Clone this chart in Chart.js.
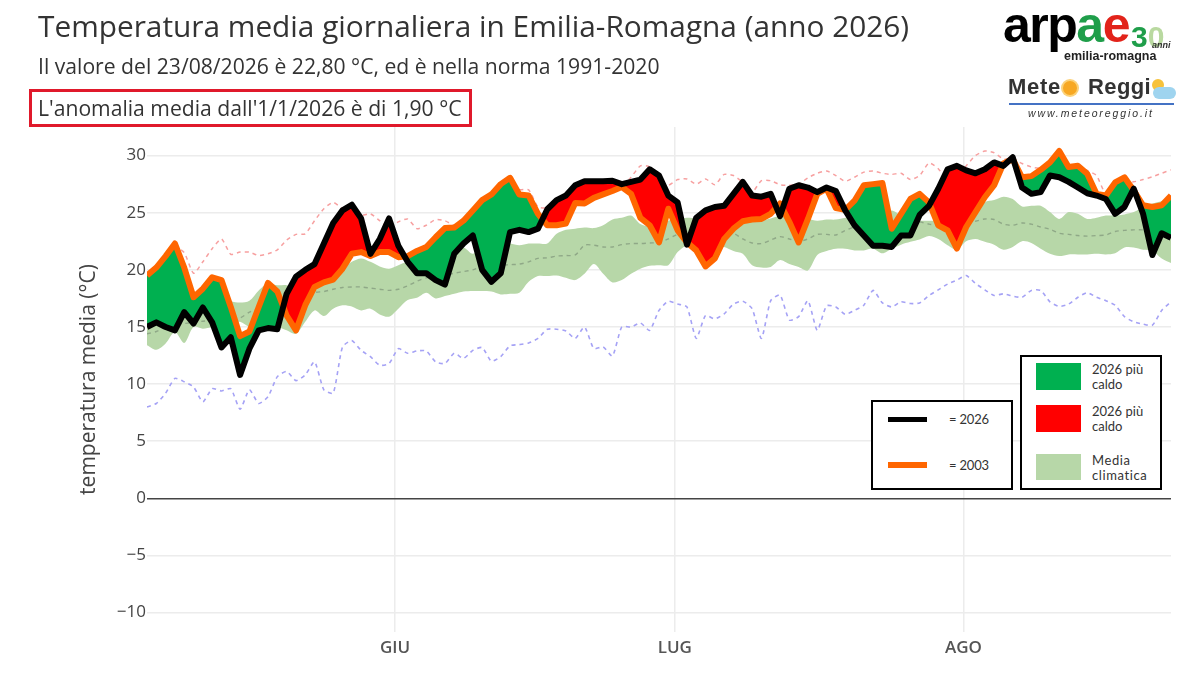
<!DOCTYPE html>
<html lang="it">
<head>
<meta charset="utf-8">
<title>Temperatura media giornaliera in Emilia-Romagna</title>
<script src="https://cdn.jsdelivr.net/npm/chart.js@4"></script>
<style>
  html, body { margin:0; padding:0; background:#fff; }
  #wrap { position:relative; width:1200px; height:675px; overflow:hidden; font-family:"Open Sans", sans-serif; }
  #wrap canvas { position:absolute; left:0; top:0; }
  .txt { position:absolute; white-space:nowrap; }
  #title { left:38px; top:6px; font-size:29.8px; line-height:40px; color:#333; }
  #sub { left:38px; top:52px; font-size:21.15px; line-height:28px; color:#333; }
  #anom { left:29px; top:89px; height:32px; border:3px solid #e0192b; font-size:21.15px; line-height:32px; color:#333; padding-left:6px; width:431px; }
  .box { position:absolute; background:#fff; border:2.5px solid #000; box-sizing:border-box; }
  .sw { position:absolute; }
  .leg { position:absolute; font-family:Lato, sans-serif; font-size:13px; line-height:15px; color:#333; white-space:nowrap; }
  .logo { position:absolute; white-space:nowrap; font-family:"Liberation Sans", Arial, sans-serif; font-weight:bold; }
</style>
</head>
<body>
<div id="wrap">
  <canvas id="chartTemp" width="1200" height="675"></canvas>

  <div class="txt" id="title">Temperatura media giornaliera in Emilia-Romagna (anno 2026)</div>
  <div class="txt" id="sub">Il valore del 23/08/2026 è 22,80 °C, ed è nella norma 1991-2020</div>
  <div class="txt" id="anom">L'anomalia media dall'1/1/2026 è di 1,90 °C</div>

  <!-- legende -->
  <div class="box" style="left:871px;top:400px;width:142px;height:90px"></div>
  <div class="sw" style="left:888px;top:417px;width:39px;height:5px;background:#000"></div>
  <div class="sw" style="left:888px;top:462px;width:39px;height:6px;background:#ff6600"></div>
  <div class="leg" style="left:949px;top:412px;letter-spacing:-.2px">= 2026</div>
  <div class="leg" style="left:949px;top:458px;letter-spacing:-.2px">= 2003</div>

  <div class="box" style="left:1020px;top:355px;width:142px;height:135px"></div>
  <div class="sw" style="left:1036px;top:363px;width:45px;height:27px;background:#00b050"></div>
  <div class="sw" style="left:1036px;top:405px;width:45px;height:27px;background:#ff0000"></div>
  <div class="sw" style="left:1036px;top:454px;width:45px;height:26px;background:#b7d7a8"></div>
  <div class="leg" style="left:1092px;top:362px">2026 più<br>caldo</div>
  <div class="leg" style="left:1092px;top:404px">2026 più<br>caldo</div>
  <div class="leg" style="left:1092px;top:453px;letter-spacing:.6px">Media<br>climatica</div>

  <!-- loghi -->
  <div class="logo" style="left:1003px;top:0px;font-size:50px;line-height:50px;letter-spacing:-1.5px;color:#000">arp<span style="color:#1f9e4a">a</span><span style="color:#e2231a">e</span></div>
  <div class="logo" style="left:1131px;top:21px;font-size:30px;line-height:32px;color:#1f9e4a">3<span style="color:#b9d9a0">0</span></div>
  <div class="logo" style="left:1152px;top:40px;font-size:9px;line-height:10px;font-style:italic;color:#333">anni</div>
  <div class="logo" style="left:1064px;top:49px;font-size:12.5px;line-height:14px;color:#222">emilia-romagna</div>
  <div class="logo" style="left:1008px;top:74px;font-size:22px;line-height:26px;color:#333;letter-spacing:.7px">Mete</div>
  <div class="sw" style="left:1063px;top:81px;width:14px;height:14px;border-radius:50%;background:#f7a823;box-shadow:0 0 0 2px #fbd27a"></div>
  <div class="logo" style="left:1088px;top:74px;font-size:22px;line-height:26px;color:#333;letter-spacing:.4px">Reggi</div>
  <div class="sw" style="left:1152px;top:79px;width:12px;height:12px;border-radius:50%;background:#f7c23a"></div>
  <div class="sw" style="left:1153px;top:87px;width:23px;height:12px;border-radius:6px;background:#9fd4ef"></div>
  <div class="sw" style="left:1009px;top:103px;width:165px;height:1.5px;background:#4472c4"></div>
  <div class="logo" style="left:1028px;top:106px;font-size:10.5px;line-height:14px;font-weight:normal;font-style:italic;letter-spacing:1.9px;color:#333">www.meteoreggio.it</div>
</div>

<script>
// ==================== Dati (dal 5 maggio al 23 agosto) ====================
const monthTicks = [26.65, 56.7, 87.7];
const monthLabels = ["GIU", "LUG", "AGO"];
const tempTicks = [-10, -5, 0, 5, 10, 15, 20, 25, 30];

const temp2026 = [
  15.0,15.4,15.0,14.7,16.3,15.3,16.7,15.4,13.2,14.1,
  10.8,13.1,14.7,14.9,14.8,17.9,19.4,20.0,20.5,22.3,
  24.1,25.2,25.7,24.5,21.4,22.7,24.5,22.1,20.7,19.7,
  19.7,19.1,18.7,21.4,22.3,23.0,20.0,18.95,19.7,23.3,
  23.5,23.3,23.6,25.3,26.1,26.5,27.4,27.75,27.75,27.75,
  27.8,27.5,27.7,27.9,28.8,28.25,26.5,25.9,22.2,24.55,
  25.2,25.5,25.6,26.65,27.7,26.5,26.4,26.65,24.7,27.1,
  27.4,27.2,26.8,27.2,26.9,25.2,23.9,23.0,22.1,22.1,
  22.0,23.0,23.0,24.8,25.6,27.1,28.8,29.1,28.7,28.45,
  28.8,29.4,29.1,29.85,27.2,26.65,26.8,28.25,28.1,27.7,
  27.2,26.7,26.5,26.2,24.9,25.5,27.1,24.9,21.3,23.2,
  22.8
];

const temp2003 = [
  19.5,20.2,21.2,22.3,20.2,17.6,18.35,19.35,19.1,16.75,
  14.2,14.6,16.75,18.85,18.1,16.0,14.7,16.9,18.5,18.9,
  19.15,20.1,21.4,21.55,21.2,21.55,21.55,21.1,21.2,21.65,
  22.0,22.85,23.65,23.7,24.3,25.2,26.1,26.6,27.5,28.05,
  26.6,26.5,24.9,23.9,23.9,24.05,25.85,25.8,26.3,26.6,
  26.9,27.25,26.65,24.55,23.9,22.4,25.35,23.45,22.4,21.7,
  20.3,21.0,22.7,23.6,24.25,24.4,24.45,24.9,25.8,24.2,
  22.4,24.45,26.65,27.1,25.4,25.25,26.05,27.4,27.5,27.6,
  23.6,24.9,26.2,26.65,25.9,23.9,23.45,21.85,23.75,25.05,
  26.35,27.4,29.3,29.7,28.1,28.2,28.75,29.4,30.4,29.0,
  29.1,28.4,26.65,26.5,27.65,28.1,26.95,25.65,25.5,25.65,
  26.5
];

const bandLow = [
  13.4,13.0,13.55,14.55,13.6,15.0,14.85,15.0,15.0,15.3,
  15.45,15.0,15.0,15.0,15.0,14.7,14.4,15.45,16.45,15.95,
  16.6,16.9,16.8,16.45,16.6,16.1,15.9,16.6,17.35,17.55,
  18.0,17.5,17.7,17.9,18.1,18.15,18.15,18.1,17.85,17.9,
  18.0,18.95,19.45,19.45,19.5,19.3,19.1,19.65,20.5,19.65,
  18.9,19.1,19.65,20.1,20.35,20.4,20.4,21.55,22.15,22.2,
  22.1,22.1,22.0,21.65,21.4,20.4,20.2,20.25,20.85,20.5,
  20.25,19.95,21.3,21.65,21.85,21.85,21.7,21.7,21.85,21.45,
  21.85,22.2,22.45,22.65,22.95,22.7,22.15,21.75,22.5,22.7,
  22.45,22.2,21.75,22.0,22.5,22.35,21.85,21.4,21.2,21.35,
  21.35,21.35,21.4,21.35,21.45,21.95,21.95,21.75,21.65,21.0,
  20.6
];

const bandHigh = [
  16.0,16.0,16.2,16.5,17.0,17.7,18.5,18.7,18.2,17.3,
  17.15,17.3,18.2,18.8,18.65,18.65,18.3,18.6,19.0,19.2,
  19.5,20.1,20.7,21.0,20.7,20.3,20.1,20.4,20.7,20.8,
  21.0,21.3,21.6,21.7,21.95,21.4,22.0,22.0,22.3,22.3,
  22.15,22.3,22.3,22.3,23.15,23.5,23.6,23.7,23.65,23.9,
  24.4,24.55,24.75,24.0,23.75,23.6,24.3,24.45,24.55,24.5,
  24.4,24.2,24.0,23.75,24.0,24.2,24.3,24.5,24.7,24.6,
  24.4,24.45,24.3,24.4,24.4,24.55,24.6,24.7,24.7,24.7,
  25.2,24.75,24.5,24.3,24.3,24.3,24.3,24.3,24.5,24.8,
  25.9,26.1,26.4,26.2,25.55,25.6,25.6,25.05,24.45,25.05,
  24.9,24.45,24.55,24.75,24.75,24.85,25.05,25.5,25.8,26.0,
  26.2
];

const meanClimate = [
  14.4,14.6,15.0,15.2,15.3,15.4,15.5,15.6,15.7,15.8,
  15.8,16.3,16.6,16.8,17.0,17.2,17.4,17.6,18.0,18.1,
  18.3,18.45,18.5,18.5,18.4,18.3,18.2,18.3,18.6,19.0,
  19.3,19.4,19.5,19.7,19.85,20.0,20.3,20.3,20.4,20.45,
  20.5,20.7,21.0,21.05,21.2,21.25,21.3,22.15,22.15,22.0,
  22.0,22.2,22.3,22.3,22.35,22.4,22.7,23.1,23.2,23.3,
  23.4,23.4,23.4,23.2,22.7,22.35,22.3,22.6,22.9,22.7,
  22.5,22.7,23.1,23.1,23.05,23.45,23.75,23.9,23.9,24.0,
  24.2,24.25,24.25,24.2,24.0,23.9,23.95,24.0,24.1,24.25,
  24.45,24.4,24.0,23.9,24.1,24.0,23.75,23.55,23.2,23.1,
  23.0,22.95,23.0,23.05,23.35,23.45,23.5,23.5,23.5,23.6,
  23.7
];

const recordMax = [
  19.4,20.0,21.1,22.0,21.5,19.7,20.7,21.85,22.7,21.35,
  21.55,21.55,21.25,21.4,21.75,22.6,23.1,23.15,24.3,25.35,
  25.9,25.35,24.9,24.75,24.9,24.3,23.7,24.2,24.45,23.6,
  23.9,24.4,24.3,23.9,24.2,24.5,24.6,25.5,26.5,27.0,
  27.0,27.0,25.5,25.4,25.5,26.0,26.5,27.0,27.3,27.4,
  27.4,27.3,28.1,29.1,29.0,27.8,27.4,27.9,27.95,27.5,
  27.95,27.45,28.35,28.25,27.65,26.8,27.8,27.8,27.45,27.4,
  27.5,28.05,28.45,28.65,28.25,27.75,28.1,28.55,28.65,28.45,
  28.35,28.45,27.9,28.25,29.35,28.85,27.8,27.95,29.1,30.0,
  30.4,30.25,29.7,29.7,29.3,29.0,28.9,29.4,30.3,29.2,
  29.1,28.7,28.25,26.65,27.4,27.7,27.7,27.9,28.15,28.45,
  28.75
];

const recordMin = [
  8.0,8.3,9.2,10.5,10.2,9.75,8.45,9.6,9.4,9.6,
  7.8,9.5,8.3,8.9,10.65,11.1,10.3,10.8,11.95,9.5,
  9.2,13.25,13.8,12.95,12.4,11.65,11.8,13.1,12.7,12.9,
  12.9,11.95,11.8,12.7,12.25,12.95,13.2,12.0,12.4,13.35,
  13.45,13.6,14.0,14.8,14.8,14.65,14.0,15.0,13.1,13.25,
  12.45,15.0,15.0,15.35,14.7,16.45,17.25,17.0,16.75,14.0,
  16.0,15.7,16.15,17.0,17.25,16.6,14.0,17.3,17.8,15.6,
  15.9,17.3,14.7,16.85,16.75,16.1,16.45,16.9,18.2,17.1,
  16.75,17.2,17.05,17.1,17.75,18.25,18.75,19.1,19.5,18.8,
  18.25,17.75,17.9,17.7,17.6,18.2,18.2,17.2,16.8,17.0,
  17.6,18.0,17.6,17.3,16.9,15.9,15.45,15.25,15.15,16.45,
  17.2
];

// ==================== Grafico ====================
const dayIndex = temp2026.map((_, i) => i);
const thin = { pointRadius: 0, borderJoinStyle: "round" };

new Chart(document.getElementById("chartTemp").getContext("2d"), {
  type: "line",
  data: {
    labels: dayIndex,
    datasets: [
      // banda climatica
      { label: "bandLow", data: bandLow, borderWidth: 0, fill: false, order: 8, tension: .3, ...thin },
      { label: "Media climatica", data: bandHigh, borderWidth: 0, backgroundColor: "#b7d7a8",
        fill: { target: 0 }, order: 7, tension: .3, ...thin },
      { label: "media", data: meanClimate, borderColor: "#8fa887", borderWidth: 1.4, borderDash: [4, 4], fill: false, order: 6, tension: .3, ...thin },
      { label: "max", data: recordMax, borderColor: "#f7a0a0", borderWidth: 1.5, borderDash: [4, 4], fill: false, order: 5, tension: .2, ...thin },
      { label: "min", data: recordMin, borderColor: "#a5a2f5", borderWidth: 1.6, borderDash: [4, 4], fill: false, order: 5, tension: .2, ...thin },
      // riempimento fra 2026 e 2003
      { label: "diff", data: temp2026, borderWidth: 0, fill: { target: 6, above: "#ff0000", below: "#00b050" }, order: 4, ...thin },
      { label: "2003", data: temp2003, borderColor: "#ff6600", borderWidth: 6, fill: false, order: 2, ...thin },
      { label: "2026", data: temp2026, borderColor: "#000000", borderWidth: 6, fill: false, order: 1, ...thin }
    ]
  },
  options: {
    responsive: false,
    animation: false,
    devicePixelRatio: 1,
    layout: { padding: { top: 127, right: 29, bottom: 0, left: 0 } },
    scales: {
      x: {
        type: "linear",
        min: 0,
        max: 110,
        afterBuildTicks: s => { s.ticks = monthTicks.map(v => ({ value: v })); },
        afterFit: s => { s.height = 43; },
        border: { display: false },
        grid: { color: "#ececec", lineWidth: 1.5, drawTicks: false },
        ticks: {
          autoSkip: false, maxRotation: 0, padding: 6,
          color: "#555", font: { family: "Open Sans", size: 17, weight: "600" },
          callback: (v, i) => monthLabels[i]
        }
      },
      y: {
        type: "linear",
        min: -11.7,
        max: 32.5,
        afterBuildTicks: s => { s.ticks = tempTicks.map(v => ({ value: v })); },
        afterFit: s => { s.width = 147; },
        border: { display: false },
        grid: {
          color: c => c.tick && c.tick.value === 0 ? "#444444" : "#ececec",
          lineWidth: c => c.tick && c.tick.value === 0 ? 1.5 : 1.5,
          drawTicks: false
        },
        ticks: {
          padding: 1, color: "#444", font: { family: "Open Sans", size: 17 },
          callback: v => String(v).replace("-", "\u2212")
        },
        title: {
          display: true, text: "temperatura media (°C)", color: "#444",
          font: { family: "Open Sans", size: 21 }, padding: { top: 76, bottom: 0 }
        }
      }
    },
    plugins: { legend: { display: false }, tooltip: { enabled: false } }
  }
});
</script>
</body>
</html>
